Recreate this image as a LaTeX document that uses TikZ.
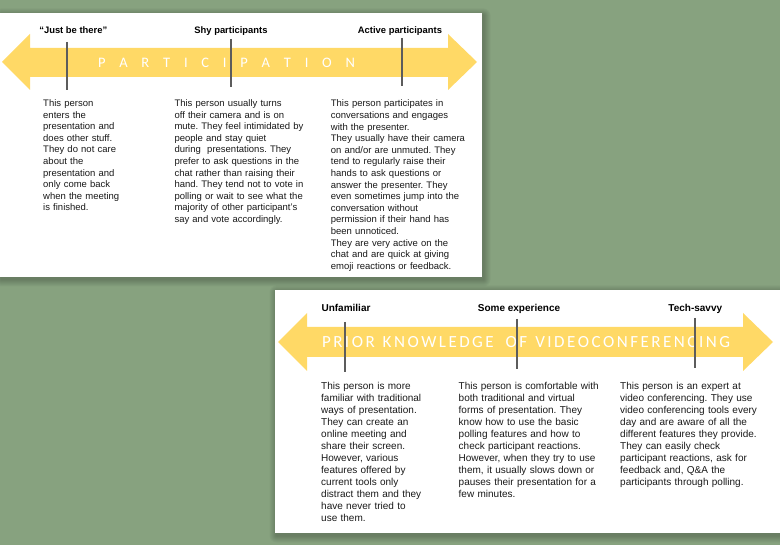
\documentclass[tikz,border=0pt]{standalone}
\usepackage{fontspec}
\setmainfont{Liberation Sans}
\newfontfamily\bandfont{Carlito}
\frenchspacing

\definecolor{bggreen}{HTML}{87A27F}
\definecolor{bandyellow}{HTML}{FFD966}
\definecolor{tickgray}{HTML}{5C5C5C}
\definecolor{bodyink}{HTML}{1A1A1A}

\tikzset{
  panel/.style={fill=white, draw=none},
  band/.style={fill=bandyellow, draw=none},
  tickline/.style={draw=tickgray, line width=2pt},
  cattop/.style={font=\bfseries\fontsize{9.4}{11}\selectfont, text=black, inner sep=0pt, anchor=base},
  catbot/.style={font=\bfseries\fontsize{10}{12}\selectfont, text=black, inner sep=0pt, anchor=base},
  bodytop/.style={font=\fontsize{9.5}{11.6}\selectfont, text=bodyink, align=left,
    text width=150pt, inner sep=0pt, anchor=base west},
  bodybot/.style={font=\fontsize{10}{12}\selectfont, text=bodyink, align=left,
    text width=160pt, inner sep=0pt, anchor=base west},
  bandtitle/.style={text=white, inner sep=0pt, anchor=center},
}

% soft drop shadow behind a card
\newcommand\cardshadow[4]{%
  \foreach \i in {1,...,7}{%
    \fill[black, opacity=0.03, rounded corners=\i pt]
      (#1-\i+1.5, #2-\i+2.5) rectangle (#3+\i+1.5, #4+\i+2.5);
  }%
}

\begin{document}
\begin{tikzpicture}[x=1pt, y=-1pt]
  \useasboundingbox (0,0) rectangle (780,545);
  \fill[bggreen] (0,0) rectangle (780,545);

  % ---------- participation card ----------
  \cardshadow{0}{13}{482}{277}
  \fill[panel] (0,13) rectangle (482,277);

  \fill[band] (2,62) -- (30,34) -- (30,48) -- (448,48) -- (448,34) -- (477,62)
    -- (448,90) -- (448,77) -- (30,77) -- (30,90) -- cycle;

  \node[bandtitle] (ptitle) at (226.5,62.5) {\bandfont\fontsize{14.5}{14.5}\selectfont
    \makebox[257pt][s]{P\hfil A\hfil R\hfil T\hfil I\hfil C\hfil I\hfil P\hfil A\hfil T\hfil I\hfil O\hfil N}};

  \draw[tickline] (67,42) -- (67,90);
  \draw[tickline] (231,39) -- (231,87);
  \draw[tickline] (402,38) -- (402,86);

  \node[cattop] (pl1) at (73.3,33.5) {“Just be there”};
  \node[cattop] (pl2) at (231,33.5) {Shy participants};
  \node[cattop] (pl3) at (400,33.5) {Active participants};

  \node[bodytop] (pt1) at (43,106.5) {This person\\ enters the\\ presentation and\\
    does other stuff.\\ They do not care\\ about the\\ presentation and\\
    only come back\\ when the meeting\\ is finished.};
  \node[bodytop] (pt2) at (174.3,106.5) {This person usually turns\\
    off their camera and is on\\ mute. They feel intimidated by\\ people and stay quiet\\
    during\ \ presentations. They\\ prefer to ask questions in the\\
    chat rather than raising their\\ hand. They tend not to vote in\\
    polling or wait to see what the\\ majority of other participant’s\\
    say and vote accordingly.};
  \node[bodytop] (pt3) at (330.7,107) {This person participates in\\
    conversations and engages\\ with the presenter.\\
    They usually have their camera\\ on and/or are unmuted. They\\
    tend to regularly raise their\\ hands to ask questions or\\
    answer the presenter. They\\ even sometimes jump into the\\
    conversation without\\ permission if their hand has\\ been unnoticed.\\
    They are very active on the\\ chat and are quick at giving\\
    emoji reactions or feedback.};

  % ---------- prior knowledge card ----------
  \cardshadow{275}{290}{781}{533}
  \fill[panel] (275,290) rectangle (781,533);

  \fill[band] (278,342) -- (307,313) -- (307,327) -- (743,327) -- (743,313) -- (773,342)
    -- (743,371) -- (743,357) -- (307,357) -- (307,371) -- cycle;

  \node[bandtitle] (ktitle) at (526,342.5) {\bandfont\fontsize{17}{17}\selectfont
    \makebox[408pt][s]{P\hfil R\hfil I\hfil O\hfil R\hfil\hspace{3pt}\hfil
      K\hfil N\hfil O\hfil W\hfil L\hfil E\hfil D\hfil G\hfil E\hfil\hspace{7pt}\hfil
      O\hfil F\hfil\hspace{3pt}\hfil
      V\hfil I\hfil D\hfil E\hfil O\hfil C\hfil O\hfil N\hfil F\hfil E\hfil R\hfil E\hfil N\hfil C\hfil I\hfil N\hfil G}};

  \draw[tickline] (345,322) -- (345,372);
  \draw[tickline] (517,319) -- (517,369);
  \draw[tickline] (695,318) -- (695,368);

  \node[catbot] (kl1) at (346,312) {Unfamiliar};
  \node[catbot] (kl2) at (519,312) {Some experience};
  \node[catbot] (kl3) at (695.3,312) {Tech-savvy};

  \node[bodybot] (kt1) at (321,389.5) {This person is more\\ familiar with traditional\\
    ways of presentation.\\ They can create an\\ online meeting and\\
    share their screen.\\ However, various\\ features offered by\\
    current tools only\\ distract them and they\\ have never tried to\\ use them.};
  \node[bodybot] (kt2) at (458.5,389.5) {This person is comfortable with\\
    both traditional and virtual\\ forms of presentation. They\\
    know how to use the basic\\ polling features and how to\\
    check participant reactions.\\ However, when they try to use\\
    them, it usually slows down or\\ pauses their presentation for a\\ few minutes.};
  \node[bodybot] (kt3) at (620,389.5) {This person is an expert at\\
    video conferencing. They use\\ video conferencing tools every\\
    day and are aware of all the\\ different features they provide.\\
    They can easily check\\ participant reactions, ask for\\
    feedback and, Q\&A the\\ participants through polling.};
\end{tikzpicture}
\end{document}
